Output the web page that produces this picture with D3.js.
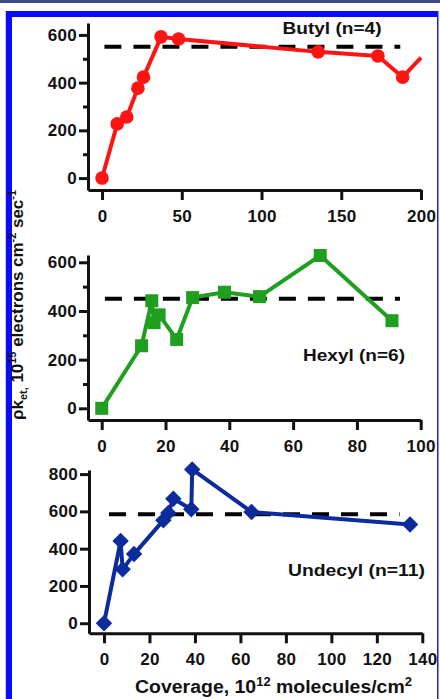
<!DOCTYPE html>
<html>
<head>
<meta charset="utf-8">
<script src="https://cdn.jsdelivr.net/npm/d3@7"></script>
<style>
  body { margin: 0; background: #fff; }
  svg { display: block; font-family: "Liberation Sans", Arial, sans-serif; font-weight: bold; }
</style>
</head>
<body>
<div id="chart"></div>
<script>
// Valeurs (couverture en 10^12 molécules/cm², rho*k_et)
const butylX = [0, 9.5, 15.5, 22.5, 26, 37, 48, 135.5, 173, 188.5];
const butylY = [0, 227, 256, 377, 423, 592, 583, 529, 512, 423];
const butylTail = [200, 505]; // la courbe sort du cadre à droite
const butylMean = 550;

const hexylX = [0, 12.5, 15.7, 16.4, 18, 23.5, 28.5, 38.5, 49.5, 68.5, 91];
const hexylY = [0, 257, 442, 352, 384, 283, 455, 477, 459, 628, 360];
const hexylMean = 450;

const undecylX = [0, 7.3, 8.2, 13.2, 26.1, 28.3, 30.5, 38.4, 38.8, 64.9, 134.6];
const undecylY = [0, 441, 289, 371, 552, 592, 668, 611, 825, 597, 530];
const undecylMean = 585;

const butylXTicks = [0, 50, 100, 150, 200];
const hexylXTicks = [0, 20, 40, 60, 80, 100];
const undecylXTicks = [0, 20, 40, 60, 80, 100, 120, 140];
const yTicks600 = [0, 200, 400, 600];
const yMinor600 = [100, 300, 500];
const yTicks800 = [0, 200, 400, 600, 800];

const W = 440, H = 699;

const svg = d3.select("#chart").append("svg")
    .attr("width", W)
    .attr("height", H);

// cadre bleu autour de la figure
svg.append("rect").attr("x", 0).attr("y", 0).attr("width", W).attr("height", 3).attr("fill", "#3e4b8c");
svg.append("rect").attr("x", 5).attr("y", 11).attr("width", 1).attr("height", H - 11).attr("fill", "#c8c8d8");
svg.append("rect").attr("x", 6).attr("y", 11).attr("width", 431).attr("height", 6).attr("fill", "#0a0aff");
svg.append("rect").attr("x", 6).attr("y", 11).attr("width", 6).attr("height", H - 11).attr("fill", "#0a0aff");
svg.append("rect").attr("x", 437).attr("y", 11).attr("width", 1.5).attr("height", H - 11).attr("fill", "#2222b8");

const panels = [
    {
        name: "Butyl (n=4)", xs: butylX, ys: butylY, tail: butylTail, mean: butylMean,
        meanFrom: 1.5, meanTo: 187,
        xDomain: [-8.8, 200], yDomain: [-50, 650], xRange: [88, 421], yRange: [190, 23],
        xTicks: butylXTicks, yTicks: yTicks600, yMinor: yMinor600,
        color: "#ff1414", shape: "circle", label: [332, 34], labelLen: 99
    },
    {
        name: "Hexyl (n=6)", xs: hexylX, ys: hexylY, tail: null, mean: hexylMean,
        meanFrom: 1, meanTo: 93.5,
        xDomain: [-4.3, 100], yDomain: [-48, 630], xRange: [88, 420.7], yRange: [420, 255],
        xTicks: hexylXTicks, yTicks: yTicks600, yMinor: yMinor600,
        color: "#1f9e1f", shape: "square", label: [354, 361], labelLen: 102
    },
    {
        name: "Undecyl (n=11)", xs: undecylX, ys: undecylY, tail: null, mean: undecylMean,
        meanFrom: 2.2, meanTo: 130,
        xDomain: [-6.6, 140], yDomain: [-54, 822], xRange: [89, 422.3], yRange: [633.3, 470],
        xTicks: undecylXTicks, yTicks: yTicks800, yMinor: [],
        color: "#0c2b9c", shape: "diamond", label: [356.5, 576], labelLen: 137
    }
];

function styleAxis(g) {
    g.attr("font-family", null).attr("font-size", null);
    g.select(".domain").attr("stroke-width", 3).attr("stroke", "#111");
    g.selectAll(".tick line").attr("stroke-width", 3).attr("stroke", "#111");
    g.selectAll(".tick text").attr("fill", "#111").style("font-size", "17px").style("letter-spacing", "0.3px");
}

panels.forEach(p => {
    const x = d3.scaleLinear().domain(p.xDomain).range(p.xRange);
    const y = d3.scaleLinear().domain(p.yDomain).range(p.yRange);
    const g = svg.append("g");

    // axes
    g.append("g")
        .attr("transform", `translate(0,${p.yRange[0]})`)
        .call(d3.axisBottom(x).tickValues(p.xTicks).tickSize(10).tickSizeOuter(0).tickPadding(10))
        .call(styleAxis);

    g.append("g")
        .attr("transform", `translate(${p.xRange[0]},0)`)
        .call(d3.axisLeft(y).tickValues(p.yTicks).tickSize(9).tickSizeOuter(0).tickPadding(2))
        .call(styleAxis);

    if (p.yMinor.length) {
        g.append("g")
            .attr("transform", `translate(${p.xRange[0]},0)`)
            .call(d3.axisLeft(y).tickValues(p.yMinor).tickSize(5).tickSizeOuter(0).tickFormat(""))
            .call(styleAxis)
            .call(a => a.select(".domain").remove());
    }

    // moyenne en pointillés
    g.append("line")
        .attr("x1", x(p.meanFrom)).attr("x2", x(p.meanTo))
        .attr("y1", y(p.mean)).attr("y2", y(p.mean))
        .attr("stroke", "#000")
        .attr("stroke-width", 4)
        .attr("stroke-dasharray", "17,12");

    const pts = p.xs.map((v, i) => [v, p.ys[i]]);
    const linePts = p.tail ? pts.concat([p.tail]) : pts;

    g.append("path")
        .datum(linePts)
        .attr("fill", "none")
        .attr("stroke", p.color)
        .attr("stroke-width", 4)
        .attr("stroke-linejoin", "round")
        .attr("d", d3.line().x(d => x(d[0])).y(d => y(d[1])));

    const sym = p.shape === "circle" ? d3.symbol(d3.symbolCircle, 145)
        : d3.symbol(d3.symbolSquare, p.shape === "square" ? 169 : 135);

    g.selectAll(".pt")
        .data(pts)
        .enter()
        .append("path")
        .attr("class", "pt")
        .attr("transform", d => `translate(${x(d[0])},${y(d[1])})` + (p.shape === "diamond" ? " rotate(45)" : ""))
        .attr("d", sym)
        .attr("fill", p.color);

    g.append("text")
        .attr("x", p.label[0])
        .attr("y", p.label[1])
        .attr("text-anchor", "middle")
        .attr("textLength", p.labelLen)
        .attr("lengthAdjust", "spacingAndGlyphs")
        .style("font-size", "17px")
        .attr("fill", "#111")
        .text(p.name);
});

// titre de l'axe vertical
const yl = svg.append("text")
    .attr("transform", "translate(23,305) rotate(-90)")
    .attr("text-anchor", "middle")
    .attr("textLength", 230)
    .attr("lengthAdjust", "spacingAndGlyphs")
    .style("font-size", "17px")
    .attr("fill", "#111");
yl.append("tspan").text("ρk");
yl.append("tspan").attr("dy", 4).style("font-size", "11px").text("et,");
yl.append("tspan").attr("dy", -4).text(" 10");
yl.append("tspan").attr("dy", -7).style("font-size", "11px").text("15");
yl.append("tspan").attr("dy", 7).text(" electrons cm");
yl.append("tspan").attr("dy", -7).style("font-size", "11px").text("-2");
yl.append("tspan").attr("dy", 7).text(" sec");
yl.append("tspan").attr("dy", -7).style("font-size", "11px").text("-1");

// titre de l'axe horizontal
const xl = svg.append("text")
    .attr("x", 273.5)
    .attr("y", 693)
    .attr("text-anchor", "middle")
    .attr("textLength", 277)
    .attr("lengthAdjust", "spacingAndGlyphs")
    .style("font-size", "18px")
    .attr("fill", "#111");
xl.append("tspan").text("Coverage, 10");
xl.append("tspan").attr("dy", -7).style("font-size", "12px").text("12");
xl.append("tspan").attr("dy", 7).text(" molecules/cm");
xl.append("tspan").attr("dy", -7).style("font-size", "12px").text("2");
</script>
</body>
</html>
